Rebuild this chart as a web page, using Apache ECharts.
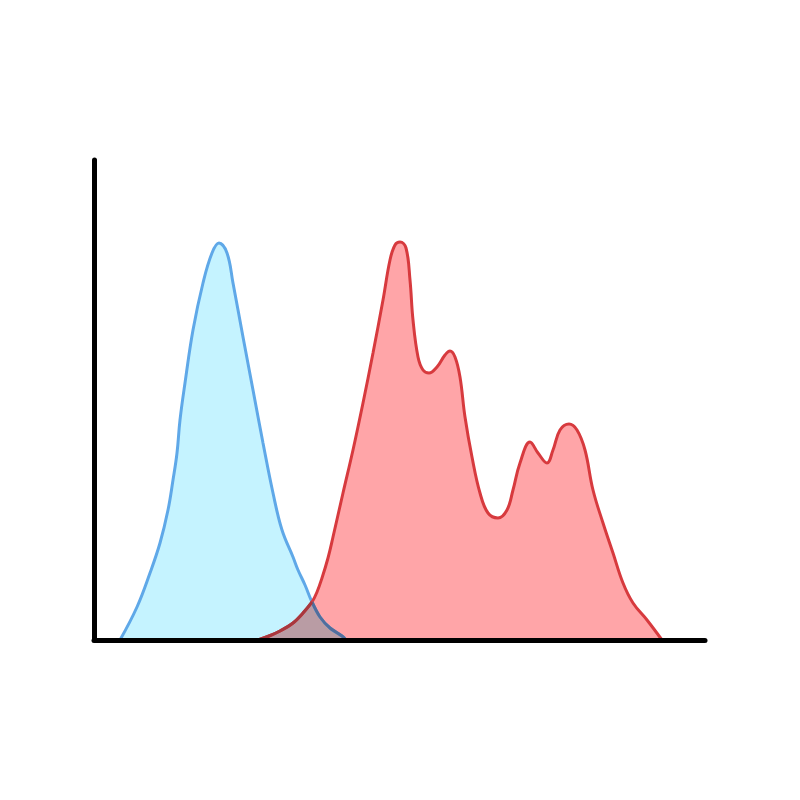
<!DOCTYPE html>
<html>
<head>
<meta charset="utf-8">
<script src="https://cdn.jsdelivr.net/npm/echarts@6/dist/echarts.min.js"></script>
<style>
html,body{margin:0;padding:0;background:#fff;}
#chart{width:800px;height:800px;}
</style>
</head>
<body>
<div id="chart"></div>
<script>
// Density curves: [x, density] in plot units
const blueCurve = [
  [26,0],[43,33],[56,67],[66,97],[74,130],[79,160],[83,187],[86,220],[91,257],[99,310],
  [109,357],[118,387],[125,397],[133,387],[139,357],[149,303],[159,250],[169,197],
  [179,147],[188,110],[199,83],[204,70],[211,55],[218,38],[226,23],[236,12],[248,4],[252,0]
];
const redCurve = [
  [164,0],[175,4],[186,9],[199,17],[209,27],[218,38],[223,48],[228,62],[234,82],[239,103],
  [249,147],[259,190],[269,237],[279,287],[289,340],[296,380],[301,395],[306,398],[312,392],
  [316,360],[319,320],[324,283],[329,270],[335,267],[343,273],[351,285],[356,289],[361,283],
  [366,263],[371,223],[378,183],[386,147],[394,127],[404,122],[413,130],[419,150],[426,177],
  [436,198],[444,187],[453,177],[459,190],[466,210],[475,216],[483,210],[491,190],
  [499,150],[509,117],[519,87],[529,57],[539,37],[553,20],[568,0]
];
// Region where both densities overlap (lower envelope)
const overlapCurve = [
  [164,0],[175,4],[186,9],[199,17],[209,27],[215,34],[218,38],[222,30],[226,23],[236,12],[248,4],[252,0]
];
const redInsideBlue = [[164,0],[175,4],[186,9],[199,17],[209,27],[218,38]];
const blueInsideRed = [[218,38],[226,23],[236,12],[248,4],[252,0]];

const xRange = [0, 611];
const yRange = [0, 480];

const chart = echarts.init(document.getElementById('chart'));
const base = {type:'line', showSymbol:false, symbol:'none', smooth:0.4, animation:false, silent:true};
chart.setOption({
  backgroundColor:'#ffffff',
  animation:false,
  grid:{left:94, right:95, top:160, bottom:160},
  xAxis:{type:'value', min:xRange[0], max:xRange[1], z:10,
    axisLine:{show:true, onZero:false, lineStyle:{color:'#000', width:5}},
    axisTick:{show:false}, axisLabel:{show:false}, splitLine:{show:false}},
  yAxis:{type:'value', min:yRange[0], max:yRange[1], z:10,
    axisLine:{show:true, onZero:false, lineStyle:{color:'#000', width:5}},
    axisTick:{show:false}, axisLabel:{show:false}, splitLine:{show:false}},
  series:[
    Object.assign({}, base, {name:'blueArea', data:blueCurve, z:1,
      lineStyle:{width:0}, areaStyle:{color:'#c5f3ff', opacity:1}}),
    Object.assign({}, base, {name:'redArea', data:redCurve, z:2,
      lineStyle:{width:0}, areaStyle:{color:'#ffa5a8', opacity:1}}),
    Object.assign({}, base, {name:'overlap', data:overlapCurve, z:3, smooth:0.3,
      lineStyle:{width:0}, areaStyle:{color:'#b99ca4', opacity:1}}),
    Object.assign({}, base, {name:'blueLine', data:blueCurve, z:4,
      lineStyle:{color:'#5fa8e8', width:3}}),
    Object.assign({}, base, {name:'redLine', data:redCurve, z:5,
      lineStyle:{color:'#d73a3e', width:3}}),
    Object.assign({}, base, {name:'blueLineOverlap', data:blueInsideRed, z:6, smooth:0.3,
      lineStyle:{color:'#516e9c', width:3}}),
    Object.assign({}, base, {name:'redLineOverlap', data:redInsideBlue, z:6, smooth:0.3,
      lineStyle:{color:'#a8383e', width:3}})
  ]
});
</script>
</body>
</html>
